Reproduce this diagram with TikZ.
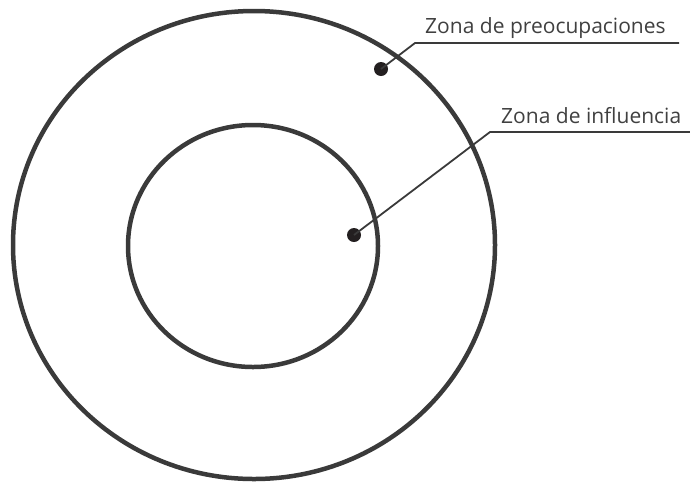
\documentclass[tikz,border=0pt]{standalone}
\usepackage{fontspec}
\setmainfont{Open Sans}
\usetikzlibrary{shapes.geometric}
\definecolor{ringgray}{HTML}{3A3A3A}
\definecolor{dotblack}{HTML}{231F20}
\definecolor{labelgray}{HTML}{404040}
\tikzset{
  zonering/.style={
    ellipse,
    draw=ringgray,
    line width=4.5pt,
    inner sep=0pt
  },
  zonedot/.style={circle, fill=dotblack, minimum size=14pt, inner sep=0pt},
  zoneleader/.style={draw=ringgray, line width=1.8pt},
  zonelabel/.style={anchor=base west, inner sep=0pt, text=labelgray, font=\fontsize{21}{25}\selectfont}
}
\begin{document}
\begin{tikzpicture}[x=1pt, y=-1pt]
\useasboundingbox (0,0) rectangle (690,483);
\node[zonering, minimum width=482pt, minimum height=468pt] (outer) at (254,245) {};
\node[zonering, minimum width=250pt, minimum height=242pt] (inner) at (253,246) {};
\node[zonedot] (preodot) at (381,69) {};
\node[zonedot] (infdot) at (354,235) {};
\coordinate (preocorner) at (415,43);
\coordinate (preoend) at (679,43);
\coordinate (infcorner) at (490,132);
\coordinate (infend) at (690,132);
\node[zonelabel] (preolabel) at (425,33) {Zona de preocupaciones};
\node[zonelabel] (inflabel) at (501,123) {Zona de influencia};
\draw[zoneleader] (preodot.center) -- (preocorner) -- (preoend);
\draw[zoneleader] (infdot.center) -- (infcorner) -- (infend);
\end{tikzpicture}
\end{document}
